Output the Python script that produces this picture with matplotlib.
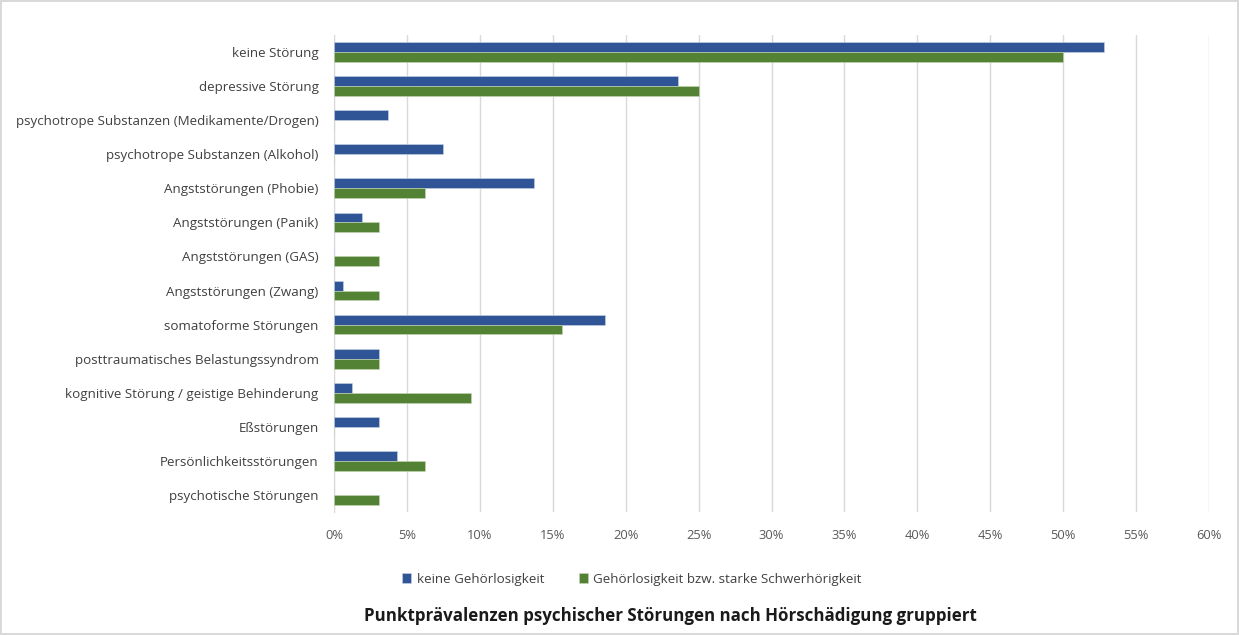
import numpy as np
import matplotlib
matplotlib.use('Agg')
import matplotlib.pyplot as plt
import matplotlib.ticker as mticker

plt.rcParams['font.family'] = ['Open Sans', 'DejaVu Sans']

categories = [
    'keine Störung',
    'depressive Störung',
    'psychotrope Substanzen (Medikamente/Drogen)',
    'psychotrope Substanzen (Alkohol)',
    'Angststörungen (Phobie)',
    'Angststörungen (Panik)',
    'Angststörungen (GAS)',
    'Angststörungen (Zwang)',
    'somatoforme Störungen',
    'posttraumatisches Belastungssyndrom',
    'kognitive Störung / geistige Behinderung',
    'Eßstörungen',
    'Persönlichkeitsstörungen',
    'psychotische Störungen',
]

# Prozentwerte je Gruppe
keine_gehoerlosigkeit = [52.8, 23.6, 3.7, 7.5, 13.7, 1.9, 0.0, 0.6, 18.6, 3.1, 1.2, 3.1, 4.3, 0.0]
gehoerlosigkeit = [50.0, 25.0, 0.0, 0.0, 6.25, 3.1, 3.1, 3.1, 15.6, 3.1, 9.4, 0.0, 6.25, 3.1]

series_labels = ['keine Gehörlosigkeit', 'Gehörlosigkeit bzw. starke Schwerhörigkeit']
x_ticks = list(range(0, 61, 5))

blue = '#2F5597'
green = '#548235'
text_grey = '#595959'

fig = plt.figure(figsize=(12.39, 6.35), dpi=100)
fig.patch.set_edgecolor('#D9D9D9')
fig.patch.set_linewidth(1.5)
ax = fig.add_axes([334 / 1239, 1 - 512 / 635, 875 / 1239, 477 / 635])

y = np.arange(len(categories))
h = 0.29
ax.barh(y - h / 2, keine_gehoerlosigkeit, height=h, color=blue, label=series_labels[0],
        edgecolor='#C9D3E8', linewidth=0.4, zorder=3)
ax.barh(y + h / 2, gehoerlosigkeit, height=h, color=green, label=series_labels[1],
        edgecolor='#C5D6B8', linewidth=0.4, zorder=3)

ax.set_ylim(len(categories) - 0.5, -0.5)
ax.set_xlim(0, 60)
ax.set_yticks(y)
ax.set_yticklabels(categories, fontsize=9.6, color='#404040')
ax.set_xticks(x_ticks)
ax.xaxis.set_major_formatter(mticker.FuncFormatter(lambda v, p: f'{v:.0f}%'))
ax.tick_params(axis='x', labelsize=9.3, labelcolor=text_grey, length=0, pad=12)
ax.tick_params(axis='y', length=0, pad=11)
ax.grid(axis='x', color='#D9D9D9', linewidth=1, zorder=0)
for s in ['top', 'right', 'bottom']:
    ax.spines[s].set_visible(False)
ax.spines['left'].set_color('#D9D9D9')

ax.legend(loc='center', bbox_to_anchor=(632 / 1239, 1 - 579 / 635), bbox_transform=fig.transFigure,
          ncol=2, frameon=False, fontsize=9.6, labelcolor='#404040', handlelength=0.7,
          handleheight=0.7, handletextpad=0.4, columnspacing=2.6)

fig.text(670 / 1239, 1 - 616 / 635, 'Punktprävalenzen psychischer Störungen nach Hörschädigung gruppiert',
         ha='center', va='center', fontsize=12.2, fontweight='bold', color='#1a1a1a')

fig.savefig('out.png', dpi=100)
